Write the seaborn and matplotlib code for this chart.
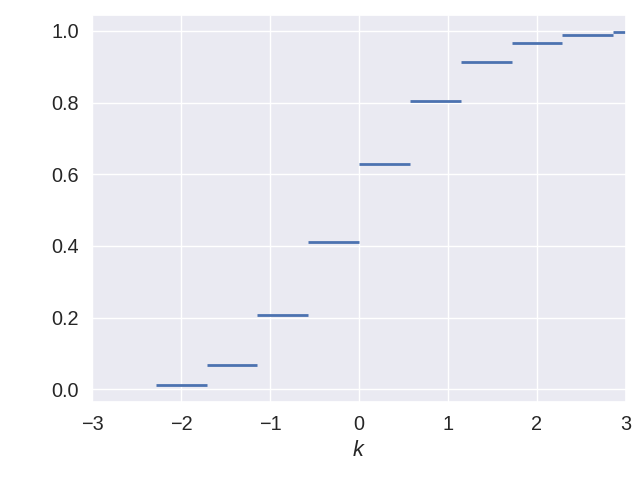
import numpy as np
import matplotlib
matplotlib.use("Agg")
import matplotlib.pyplot as plt
import seaborn as sns

sns.set_theme(style="darkgrid", font_scale=1.3)
plt.rcParams['font.family'] = ['Liberation Sans', 'DejaVu Sans']
plt.rcParams['mathtext.fontset'] = 'custom'
plt.rcParams['mathtext.it'] = 'Liberation Sans:italic'

left_edges = [-16/7, -12/7, -8/7, -4/7, 0, 4/7, 8/7, 12/7, 16/7, 20/7]
right_edges = [-12/7, -8/7, -4/7, 0, 4/7, 8/7, 12/7, 16/7, 20/7, 24/7]
cdf = [0.012, 0.068, 0.206, 0.41, 0.628, 0.804, 0.913, 0.966, 0.989, 0.997]

fig, ax = plt.subplots(figsize=(6.4, 4.8), dpi=100)
ax.hlines(cdf, left_edges, right_edges, color=sns.color_palette()[0], linewidth=2)
ax.set_xlim(-3, 3)
ax.set_ylim(-0.035, 1.045)
ax.set_xlabel("$k$")
fig.subplots_adjust(left=0.144, right=0.978, top=0.969, bottom=0.163)
fig.savefig("out.png")
